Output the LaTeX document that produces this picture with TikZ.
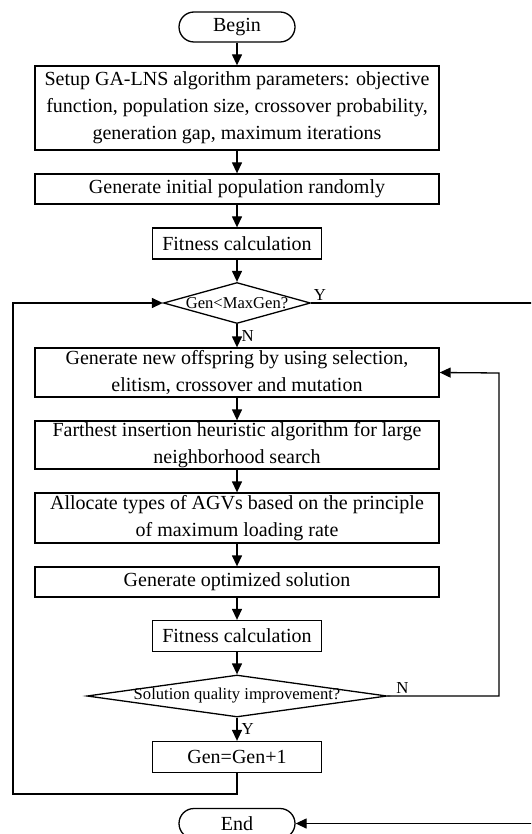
\documentclass[tikz,border=0pt]{standalone}
\usepackage{fontspec}
\setmainfont{Liberation Serif}
\usetikzlibrary{arrows.meta, positioning, shapes.geometric}

\begin{document}
\begin{tikzpicture}[
    x=0.5pt, y=-0.5pt,
    >={Triangle[length=5.5pt, width=5pt]},
    base/.style={draw, line width=0.65pt, font=\fontsize{10}{13.5}\selectfont, inner sep=0pt, align=center},
    proc/.style={base, minimum width=202pt},
    fitbox/.style={base, minimum width=84.5pt, minimum height=15.5pt},
    term/.style={base, rounded corners=7.5pt, minimum width=58pt, minimum height=15pt},
    decision/.style={draw, diamond, line width=0.65pt, inner sep=0pt, font=\fontsize{8.3}{10}\selectfont},
    arr/.style={->, line width=0.65pt},
    lbl/.style={font=\fontsize{8.4}{10}\selectfont, inner sep=1pt},
]
\useasboundingbox (0,0) rectangle (531,834);
\clip (0,0) rectangle (531,834);
% ----- the main column, top to bottom
\node[term] (start) at (237,27) {Begin};
\node[proc, minimum height=42pt] (setup) at (237,108) {Setup GA-LNS algorithm parameters: objective\\function, population size, crossover probability,\\generation gap, maximum iterations};
\node[proc, minimum height=15pt] (init) at (237,189) {Generate initial population randomly};
\node[fitbox] (fit1) at (237,243.5) {Fitness calculation};
\node[decision, minimum width=73.5pt, minimum height=20.5pt] (gen) at (237,303) {\makebox[0pt]{Gen<MaxGen?}};
\node[proc, minimum height=24.5pt] (offs) at (237,372.5) {Generate new offspring by using selection,\\elitism, crossover and mutation};
\node[proc, minimum height=24pt] (lns) at (237,445) {Farthest insertion heuristic algorithm for large\\neighborhood search};
\node[proc, minimum height=25pt] (agv) at (237,518) {Allocate types of AGVs based on the principle\\of maximum loading rate};
\node[proc, minimum height=15pt] (opt) at (237,582) {Generate optimized solution};
\node[fitbox] (fit2) at (237,636) {Fitness calculation};
\node[decision, minimum width=150pt, minimum height=21pt] (qual) at (237,696) {\makebox[0pt]{Solution quality improvement?}};
\node[fitbox] (inc) at (237,757) {Gen=Gen+1};
\node[term] (stop) at (237,823.5) {End};
% ----- straight arrows down the column
\foreach \a/\b in {start/setup, setup/init, init/fit1, fit1/gen, offs/lns, lns/agv, agv/opt, opt/fit2, fit2/qual}
  \draw[arr] (\a) -- (\b);
\draw[arr] (gen) -- (offs) node[midway, right, lbl, xshift=1pt] {N};
\draw[arr] (qual) -- (inc) node[midway, right, lbl, xshift=1pt] {Y};
% ----- the two loops and the way out
\coordinate (backL) at (13,794);
\coordinate (backR) at (499,373);
\coordinate (exitR) at (545,303);
\draw[arr] (inc.south) |- (backL) |- (gen.west);
\draw[arr] (qual.east) node[lbl, anchor=south west, xshift=3pt] {N} -| (backR) -- (offs.east);
\draw[arr] (gen.east) node[lbl, anchor=south west] {Y} -- (exitR) |- (stop.east);
\end{tikzpicture}
\end{document}
